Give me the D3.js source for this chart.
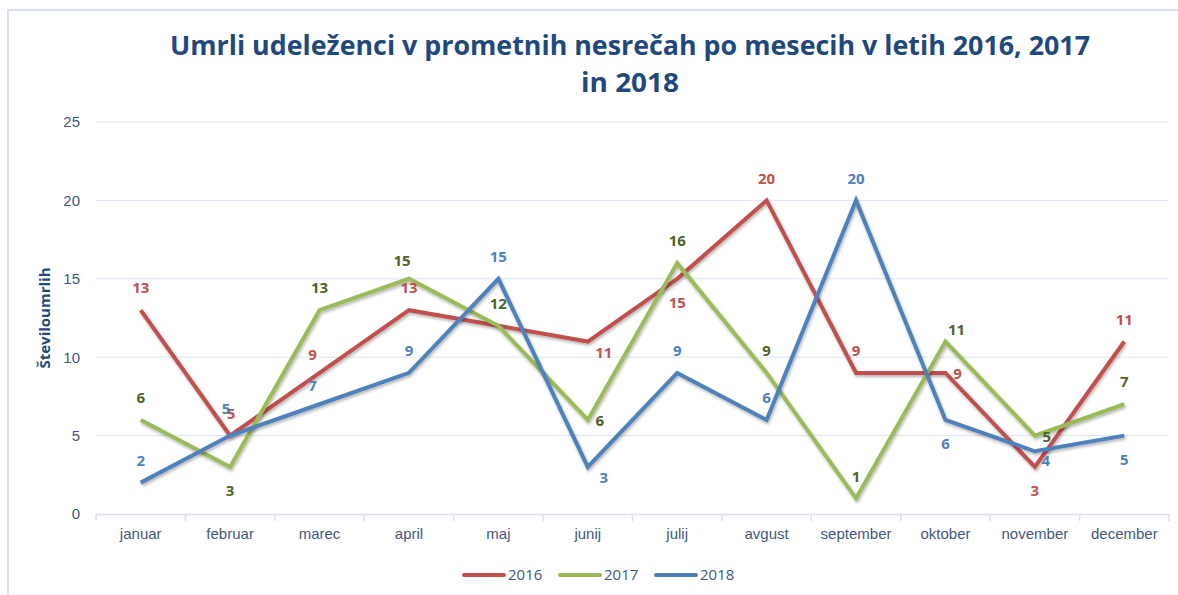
<!DOCTYPE html>
<html>
<head>
<meta charset="utf-8">
<script src="https://cdn.jsdelivr.net/npm/d3@7"></script>
<style>
  body { margin: 0; background: #fff; }
  svg { display: block; font-family: "Open Sans", sans-serif; }
</style>
</head>
<body>
<div id="chart"></div>
<script>
// data
var months = ["januar", "februar", "marec", "april", "maj", "junij",
              "julij", "avgust", "september", "oktober", "november", "december"];
var years = ["2016", "2017", "2018"];
var v2016 = [13, 5, 9, 13, 12, 11, 15, 20, 9, 9, 3, 11];
var v2017 = [6, 3, 13, 15, 12, 6, 16, 9, 1, 11, 5, 7];
var v2018 = [2, 5, 7, 9, 15, 3, 9, 6, 20, 6, 4, 5];
var yTicks = [0, 5, 10, 15, 20, 25];

// where each data label sits relative to its point (t = above, b = below, r = right, br = below right ...)
var pos2016 = ["t", "tR", "tl", "t", null, "br", "b", "t", "t", "r", "b", "t"];
var pos2017 = ["t", "b", "t", "tl", "t", "r", "t", "t", "t", "tr", "r", "t"];
var pos2018 = ["t", "tL", "tl", "t", "t", "br", "t", "t", "t", "b", "br2", "b"];

var series = [
  {name: years[0], values: v2016, pos: pos2016, color: "#c0504d", label: "#c0504d"},
  {name: years[1], values: v2017, pos: pos2017, color: "#9bbb59", label: "#4f6228"},
  {name: years[2], values: v2018, pos: pos2018, color: "#4f81bd", label: "#4f81bd"}
];

var W = 1178, H = 595;
var margin = {top: 122, right: 10, bottom: 81, left: 96},
    width = 1169 - margin.left,
    height = H - margin.top - margin.bottom;

var svg = d3.select("#chart")
  .append("svg")
    .attr("width", W)
    .attr("height", H);

// drop shadow for the lines
var defs = svg.append("defs");
var f = defs.append("filter").attr("id", "shadow")
    .attr("x", "-5%").attr("y", "-5%").attr("width", "110%").attr("height", "115%");
f.append("feDropShadow").attr("dx", 1).attr("dy", 2).attr("stdDeviation", 1.5)
    .attr("flood-color", "#000").attr("flood-opacity", 0.3);

// chart frame
svg.append("rect")
    .attr("x", 8).attr("y", 10)
    .attr("width", W + 20).attr("height", H + 20)
    .attr("fill", "none")
    .attr("stroke", "#d5e0ee")
    .attr("stroke-width", 2);

// title
var title = svg.append("text")
    .attr("text-anchor", "middle")
    .attr("fill", "#1f497d")
    .style("font-weight", "bold")
    .style("font-size", "26px");
title.append("tspan").attr("x", 630).attr("y", 55)
    .attr("textLength", 920).attr("lengthAdjust", "spacingAndGlyphs")
    .text("Umrli udeleženci v prometnih nesrečah po mesecih v letih 2016, 2017");
title.append("tspan").attr("x", 630).attr("y", 92)
    .attr("textLength", 98).attr("lengthAdjust", "spacingAndGlyphs")
    .text("in 2018");

var g = svg.append("g")
    .attr("transform", "translate(" + margin.left + "," + margin.top + ")");

var x = d3.scaleBand()
    .domain(months)
    .range([0, width]);

var y = d3.scaleLinear()
    .domain([0, 25])
    .range([height, 0]);

// gridlines
g.selectAll(".grid")
  .data(yTicks.slice(1))
  .enter()
  .append("line")
    .attr("x1", 0).attr("x2", width)
    .attr("y1", function(d) { return y(d); })
    .attr("y2", function(d) { return y(d); })
    .attr("stroke", "#dce6f2")
    .attr("stroke-width", 1);

// y axis
var yAxis = g.append("g")
    .attr("transform", "translate(-16,0)")
    .call(d3.axisLeft(y).tickValues(yTicks).tickSize(0).tickPadding(0));
yAxis.select(".domain").remove();
yAxis.selectAll("text")
    .attr("fill", "#44587a")
    .style("font-size", "15px");

// x axis
var xAxis = g.append("g")
    .attr("transform", "translate(0," + height + ")")
    .call(d3.axisBottom(x).tickSize(0).tickPadding(14));
xAxis.select(".domain").attr("stroke", "#d9e1ec").attr("stroke-width", 1.5);
xAxis.selectAll("text")
    .attr("fill", "#44587a")
    .style("font-size", "15px");
xAxis.selectAll(".sep")
  .data(months.concat(["end"]))
  .enter()
  .append("line")
    .attr("x1", function(d, i) { return i * x.step(); })
    .attr("x2", function(d, i) { return i * x.step(); })
    .attr("y1", 0).attr("y2", 7)
    .attr("stroke", "#d9e1ec")
    .attr("stroke-width", 1.5);

// y axis title
svg.append("text")
    .attr("transform", "translate(50," + (margin.top + height / 2) + ") rotate(-90)")
    .attr("text-anchor", "middle")
    .attr("fill", "#1f497d")
    .style("font-weight", "bold")
    .style("font-size", "15px")
    .text("Številoumrlih");

// lines
var line = d3.line()
    .x(function(d, i) { return x(months[i]) + x.bandwidth() / 2; })
    .y(function(d) { return y(d); });

g.selectAll(".series")
  .data(series)
  .enter()
  .append("path")
    .attr("d", function(d) { return line(d.values); })
    .attr("fill", "none")
    .attr("stroke", function(d) { return d.color; })
    .attr("stroke-width", 4)
    .attr("stroke-linejoin", "miter")
    .attr("filter", "url(#shadow)");

// data labels
var offsets = {
  t:  [0, -22], b: [0, 24], r: [12, 1], br: [16, 11], br2: [11, 9],
  tl: [-7, -18], tr: [11, -12], tR: [1, -22], tL: [-4, -27]
};

series.forEach(function(s) {
  g.selectAll(null)
    .data(s.values.map(function(v, i) { return {v: v, i: i, p: s.pos[i]}; })
                  .filter(function(d) { return d.p; }))
    .enter()
    .append("text")
      .attr("x", function(d) { return x(months[d.i]) + x.bandwidth() / 2 + offsets[d.p][0]; })
      .attr("y", function(d) { return y(d.v) + offsets[d.p][1]; })
      .attr("dy", "0.35em")
      .attr("text-anchor", "middle")
      .attr("fill", s.label)
      .style("font-weight", "bold")
      .style("font-size", "15px")
      .text(function(d) { return d.v; });
});

// legend
var legend = svg.append("g")
    .attr("transform", "translate(464,575)");
var item = legend.selectAll(".item")
  .data(series)
  .enter()
  .append("g")
    .attr("transform", function(d, i) { return "translate(" + (i * 96) + ",0)"; });
item.append("line")
    .attr("x1", 0).attr("x2", 40)
    .attr("stroke", function(d) { return d.color; })
    .attr("stroke-width", 4)
    .attr("stroke-linecap", "round");
item.append("text")
    .attr("x", 44).attr("dy", "0.35em")
    .attr("fill", "#44587a")
    .style("font-size", "15px")
    .text(function(d) { return d.name; });
</script>
</body>
</html>
